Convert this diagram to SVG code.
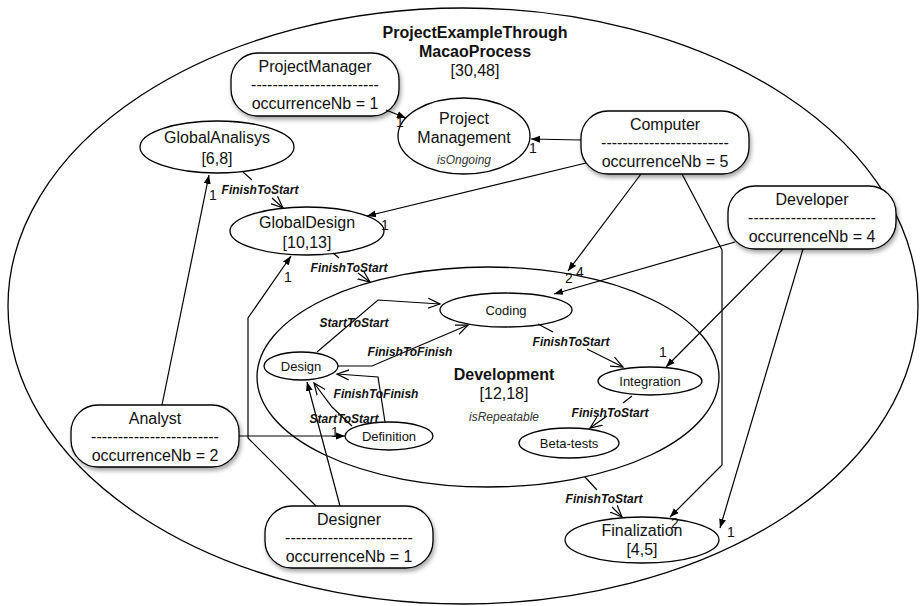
<svg xmlns="http://www.w3.org/2000/svg" width="920" height="606" viewBox="0 0 920 606">
<defs>
<marker id="fill" markerUnits="userSpaceOnUse" markerWidth="10" markerHeight="8" refX="9" refY="4" orient="auto"><path d="M0,0.5 L9,4 L0,7.5 z" fill="#000"/></marker>
<marker id="open" markerUnits="userSpaceOnUse" markerWidth="14" markerHeight="12" refX="12" refY="6" orient="auto"><path d="M0,1 L12,6 L0,11" fill="none" stroke="#000" stroke-width="1.2"/></marker>
<filter id="sh" x="-10%" y="-10%" width="130%" height="140%"><feDropShadow dx="1.5" dy="3" stdDeviation="2" flood-color="#000" flood-opacity="0.35"/></filter>
</defs>
<style>
text{font-family:"Liberation Sans",Arial,Helvetica,sans-serif;fill:#111}
.n{font-size:16px;text-anchor:middle}
.s{font-size:13px;text-anchor:middle}
.b{font-weight:bold;text-anchor:middle;font-size:16px}
.it{font-size:12px;font-style:italic;fill:#333;text-anchor:middle}
.pl{font-size:12px;font-style:italic;font-weight:bold;text-anchor:middle}
.num{font-size:14px;text-anchor:middle}
.sh{fill:none;stroke:#000;stroke-width:1.3}
.box{fill:#fff;stroke:#000;stroke-width:1.3;filter:url(#sh)}
.c{fill:none;stroke:#000;stroke-width:1.2}
.r{marker-end:url(#fill)}
.p{marker-end:url(#open)}
</style>
<rect width="920" height="606" fill="#fff"/>
<g id="process">
<ellipse class="sh" cx="463" cy="306" rx="455" ry="298"/>
<text class="b" x="475" y="38">ProjectExampleThrough</text>
<text class="b" x="475" y="57">MacaoProcess</text>
<text class="n" x="475" y="76">[30,48]</text>
</g>
<g id="development">
<ellipse class="sh" cx="488" cy="377" rx="231" ry="110"/>
<text class="b" x="504" y="380">Development</text>
<text class="n" x="504" y="399">[12,18]</text>
<text class="it" x="504" y="421">isRepeatable</text>
</g>
<g id="projectManagement">
<ellipse class="sh" cx="464" cy="136" rx="66" ry="38" fill="#fff"/>
<text class="n" x="464" y="124">Project</text>
<text class="n" x="464" y="143">Management</text>
<text class="it" x="464" y="164">isOngoing</text>
</g>
<g id="globalAnalisys">
<ellipse class="sh" cx="217" cy="147" rx="77" ry="26"/>
<text class="n" x="217" y="143">GlobalAnalisys</text>
<text class="n" x="217" y="164">[6,8]</text>
</g>
<g id="globalDesign">
<ellipse class="sh" cx="307" cy="231" rx="77" ry="24"/>
<text class="n" x="307" y="228">GlobalDesign</text>
<text class="n" x="307" y="248">[10,13]</text>
</g>
<g id="coding">
<ellipse class="sh" cx="506" cy="310" rx="66" ry="17"/>
<text class="s" x="506" y="314.5">Coding</text>
</g>
<g id="design">
<ellipse class="sh" cx="301" cy="366" rx="37" ry="14"/>
<text class="s" x="301" y="371">Design</text>
</g>
<g id="definition">
<ellipse class="sh" cx="389" cy="436" rx="44" ry="14"/>
<text class="s" x="389" y="441">Definition</text>
</g>
<g id="integration">
<ellipse class="sh" cx="650" cy="381" rx="52" ry="14"/>
<text class="s" x="650" y="386">Integration</text>
</g>
<g id="betaTests">
<ellipse class="sh" cx="569" cy="443" rx="50" ry="15"/>
<text class="s" x="569" y="448">Beta-tests</text>
</g>
<g id="finalization">
<ellipse class="sh" cx="642" cy="540" rx="77" ry="23"/>
<text class="n" x="642" y="536">Finalization</text>
<text class="n" x="642" y="555">[4,5]</text>
</g>
<g id="projectManager">
<rect class="box" x="231" y="53" width="168" height="63" rx="27"/>
<text class="n" x="315" y="72">ProjectManager</text>
<text class="n" x="315" y="90">------------------------</text>
<text class="n" x="315" y="109">occurrenceNb = 1</text>
</g>
<g id="computer">
<rect class="box" x="581" y="111" width="168" height="63" rx="27"/>
<text class="n" x="665" y="130">Computer</text>
<text class="n" x="665" y="148">------------------------</text>
<text class="n" x="665" y="167">occurrenceNb = 5</text>
</g>
<g id="developer">
<rect class="box" x="728" y="186" width="168" height="63" rx="27"/>
<text class="n" x="812" y="205">Developer</text>
<text class="n" x="812" y="223">------------------------</text>
<text class="n" x="812" y="242">occurrenceNb = 4</text>
</g>
<g id="analyst">
<rect class="box" x="71" y="405" width="168" height="62" rx="27"/>
<text class="n" x="155" y="424">Analyst</text>
<text class="n" x="155" y="442">------------------------</text>
<text class="n" x="155" y="461">occurrenceNb = 2</text>
</g>
<g id="designer">
<rect class="box" x="265" y="506" width="168" height="62" rx="27"/>
<text class="n" x="349" y="525">Designer</text>
<text class="n" x="349" y="543">------------------------</text>
<text class="n" x="349" y="562">occurrenceNb = 1</text>
</g>
<g id="connectors">
<line class="c r" x1="386" y1="110" x2="406" y2="118"/>
<line class="c r" x1="581" y1="140" x2="531" y2="139"/>
<line class="c r" x1="586" y1="163" x2="367" y2="216"/>
<line class="c r" x1="641" y1="174" x2="568" y2="271"/>
<polyline class="c r" points="682,174 722,250 722,465 670,517"/>
<line class="c r" x1="735" y1="242" x2="554" y2="294"/>
<line class="c r" x1="783" y1="249" x2="666" y2="367"/>
<line class="c r" x1="803" y1="249" x2="720" y2="528"/>
<line class="c r" x1="162" y1="405" x2="209" y2="175"/>
<line class="c r" x1="239" y1="436" x2="345" y2="436"/>
<polyline class="c r" points="316,506 248,438 248,318 291,256"/>
<line class="c r" x1="340" y1="506" x2="307" y2="382"/>
<line class="c" x1="243" y1="172" x2="252" y2="180"/>
<line class="c p" x1="272" y1="198" x2="283" y2="208"/>
<line class="c" x1="333" y1="253" x2="339" y2="258"/>
<line class="c p" x1="358" y1="273" x2="370" y2="282"/>
<polyline class="c p" points="317,352 378,300 440,304"/>
<polyline class="c p" points="338,366 372,366 468,325"/>
<polyline class="c p" points="385,422 378,377 337,374"/>
<polyline class="c p" points="352,426 332,407 314,383"/>
<line class="c" x1="538" y1="324" x2="553" y2="332"/>
<line class="c p" x1="587" y1="349" x2="623" y2="367"/>
<line class="c" x1="632" y1="396" x2="623" y2="403"/>
<line class="c p" x1="607" y1="416" x2="590" y2="428"/>
<line class="c" x1="585" y1="477" x2="597" y2="490"/>
<line class="c p" x1="612" y1="507" x2="622" y2="517"/>
<text class="pl" x="260" y="194">FinishToStart</text>
<text class="pl" x="349" y="272">FinishToStart</text>
<text class="pl" x="354" y="327">StartToStart</text>
<text class="pl" x="410" y="356">FinishToFinish</text>
<text class="pl" x="376" y="398">FinishToFinish</text>
<text class="pl" x="344" y="423">StartToStart</text>
<text class="pl" x="571" y="346">FinishToStart</text>
<text class="pl" x="610" y="417">FinishToStart</text>
<text class="pl" x="604" y="503">FinishToStart</text>
<text class="num" x="400" y="127">1</text>
<text class="num" x="533" y="153">1</text>
<text class="num" x="385" y="230">1</text>
<text class="num" x="569" y="283">2</text>
<text class="num" x="580" y="277">4</text>
<text class="num" x="663" y="357">1</text>
<text class="num" x="731" y="537">1</text>
<text class="num" x="675" y="528">2</text>
<text class="num" x="213" y="200">1</text>
<text class="num" x="288" y="282">1</text>
<text class="num" x="335" y="437">1</text>
</g>
</svg>
